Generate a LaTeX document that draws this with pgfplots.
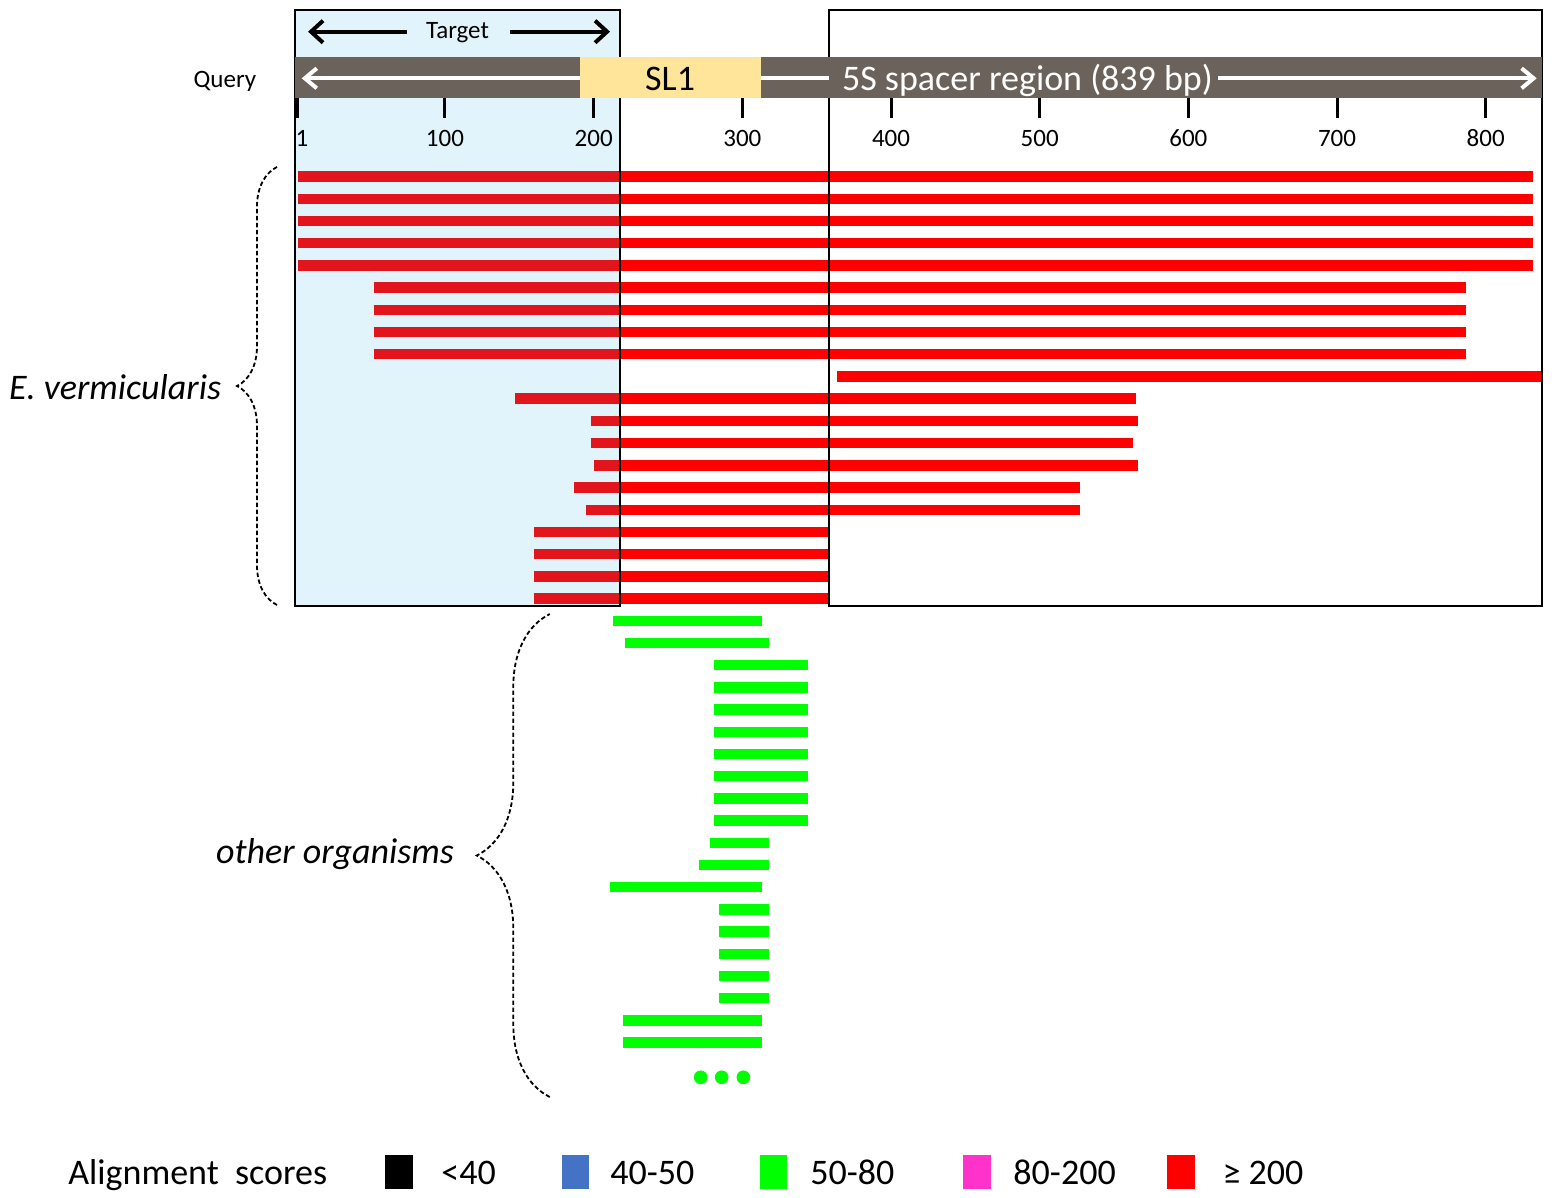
\documentclass[border=0pt]{standalone}
\usepackage{pgfplots}
\pgfplotsset{compat=1.18}
\usepackage{pgfplotstable}
\usepackage{fontspec}
\setmainfont{Carlito}
\usetikzlibrary{arrows.meta,decorations.pathreplacing}

\definecolor{qgray}{RGB}{107,98,92}
\definecolor{sly}{RGB}{255,229,153}
\definecolor{overlayblue}{RGB}{32,169,224}
\definecolor{lgreen}{RGB}{0,255,0}
\definecolor{lblue}{RGB}{68,114,196}
\definecolor{lmag}{RGB}{255,51,204}

% hits of E. vermicularis (score >= 200): row, start (bp), end (bp)
\pgfplotstableread{
row start end
1 1 832
2 1 832
3 1 832
4 1 832
5 1 832
6 52 787
7 52 787
8 52 787
9 52 787
10 364 838
11 147 565
12 198 566
13 198 563
14 200 566
15 187 527
16 195 527
17 160 358
18 160 358
19 160 358
20 160 358
}\redhits

% hits of other organisms (score 50-80)
\pgfplotstableread{
row start end
21 213 313
22 221 318
23 281 344
24 281 344
25 281 344
26 281 344
27 281 344
28 281 344
29 281 344
30 281 344
31 278 318
32 271 318
33 211 313
34 284 318
35 284 318
36 284 318
37 284 318
38 284 318
39 220 313
40 220 313
}\greenhits

\begin{document}
\begin{tikzpicture}
\begin{axis}[scale only axis, width=779.5pt, height=599pt,
  xmin=-199.3, xmax=849.3, ymin=0, ymax=1198, y dir=reverse,
  hide axis, clip=false]
\path (rel axis cs:0,0) rectangle (rel axis cs:1,1);

% bars
\addplot[draw=none, mark=none, forget plot,
  error bars/.cd, x dir=plus, x explicit, error mark=none,
  error bar style={draw=red, line width=5.2pt, line cap=butt, solid}]
  table[x=start, y expr={176.7+22.2*(\thisrow{row}-1)}, x error expr={\thisrow{end}-\thisrow{start}}] {\redhits};
\addplot[draw=none, mark=none, forget plot,
  error bars/.cd, x dir=plus, x explicit, error mark=none,
  error bar style={draw=lgreen, line width=5.2pt, line cap=butt, solid}]
  table[x=start, y expr={176.7+22.2*(\thisrow{row}-1)}, x error expr={\thisrow{end}-\thisrow{start}}] {\greenhits};
\addplot[only marks, mark=*, mark size=3.2pt, color=lgreen, forget plot]
  coordinates {(272.0,1077.3) (286.1,1077.3) (300.7,1077.3)};

% target region shading and boxes
\fill[overlayblue, fill opacity=0.13] (axis cs:-0.87,10) rectangle (axis cs:217.7,606);
\draw[line width=1pt] (axis cs:-0.87,10) rectangle (axis cs:217.7,606);
\draw[line width=1pt] (axis cs:358.5,10) rectangle (axis cs:837.8,606);

% query bar
\fill[qgray] (axis cs:-0.87,56.7) rectangle (axis cs:837.8,98.3);
\fill[sly] (axis cs:190.8,56.7) rectangle (axis cs:312.3,98.3);
\draw[white, line width=2pt, -{Straight Barb[length=6pt,width=10pt]}] (axis cs:190.8,78.3) -- (axis cs:3.6,78.3);
\draw[white, line width=2pt] (axis cs:312.3,78.3) -- (axis cs:358.5,78.3);
\draw[white, line width=2pt, -{Straight Barb[length=6pt,width=10pt]}] (axis cs:619.9,78.3) -- (axis cs:834.3,78.3);
\node[anchor=base west, inner sep=0, text=white, font=\fontsize{18}{20}\selectfont] at (axis cs:366.8,90.7) {5S spacer region (839 bp)};
\node[anchor=base, inner sep=0, font=\fontsize{18}{20}\selectfont] at (axis cs:251.4,90.7) {SL1};
\node[anchor=base, inner sep=0, font=\fontsize{12.5}{14}\selectfont] at (axis cs:-48.0,87.3) {Query};

% target arrows
\draw[line width=2pt, -{Straight Barb[length=6pt,width=11pt]}] (axis cs:74.5,31.7) -- (axis cs:7.9,31.7);
\draw[line width=2pt, -{Straight Barb[length=6pt,width=11pt]}] (axis cs:143.7,31.7) -- (axis cs:211.0,31.7);
\node[anchor=base, inner sep=0, font=\fontsize{12.5}{14}\selectfont] at (axis cs:108.4,38.3) {Target};

% scale ticks
\draw[line width=1.5pt]
  (axis cs:1,98.3) -- (axis cs:1,118.3)
  (axis cs:100,98.3) -- (axis cs:100,118.3)
  (axis cs:200,98.3) -- (axis cs:200,118.3)
  (axis cs:300,98.3) -- (axis cs:300,118.3)
  (axis cs:400,98.3) -- (axis cs:400,118.3)
  (axis cs:500,98.3) -- (axis cs:500,118.3)
  (axis cs:600,98.3) -- (axis cs:600,118.3)
  (axis cs:700,98.3) -- (axis cs:700,118.3)
  (axis cs:800,98.3) -- (axis cs:800,118.3);
\begin{scope}[every node/.style={anchor=base, inner sep=0, font=\fontsize{12.5}{14}\selectfont}]
\node at (axis cs:3.8,146.7) {1};
\node at (axis cs:100,146.7) {100};
\node at (axis cs:200,146.7) {200};
\node at (axis cs:300,146.7) {300};
\node at (axis cs:400,146.7) {400};
\node at (axis cs:500,146.7) {500};
\node at (axis cs:600,146.7) {600};
\node at (axis cs:700,146.7) {700};
\node at (axis cs:800,146.7) {800};
\end{scope}

% braces and group labels
\draw[decorate, decoration={brace, amplitude=20pt}, line width=0.9pt, dash pattern=on 2.2pt off 1.3pt]
  (axis cs:-13.0,605) -- (axis cs:-13.0,167);
\draw[decorate, decoration={brace, amplitude=36.5pt}, line width=0.9pt, dash pattern=on 2.2pt off 1.3pt]
  (axis cs:170.5,1097) -- (axis cs:170.5,614);
\node[anchor=base, inner sep=0, font=\fontsize{18}{20}\selectfont\itshape] at (axis cs:-121.9,400) {E. vermicularis};
\node[anchor=base, inner sep=0, font=\fontsize{18}{20}\selectfont\itshape] at (axis cs:26.0,863) {other organisms};

% legend
\fill[black] (axis cs:59.7,1155) rectangle (axis cs:78.5,1189);
\fill[lblue] (axis cs:178.7,1155) rectangle (axis cs:196.9,1189);
\fill[lgreen] (axis cs:311.9,1155) rectangle (axis cs:330.0,1189);
\fill[lmag] (axis cs:448.4,1155) rectangle (axis cs:467.2,1189);
\fill[red] (axis cs:585.6,1155) rectangle (axis cs:604.4,1189);
\begin{scope}[every node/.style={anchor=base west, inner sep=0, font=\fontsize{18}{20}\selectfont}]
\node at (axis cs:-153.6,1184) {Alignment\hspace{0.45em}scores};
\node at (axis cs:97.3,1184) {<40};
\node at (axis cs:211.0,1184) {40-50};
\node at (axis cs:345.5,1184) {50-80};
\node at (axis cs:482.1,1184) {80-200};
\node at (axis cs:622.7,1184) {≥ 200};
\end{scope}
\end{axis}
\end{tikzpicture}
\end{document}
